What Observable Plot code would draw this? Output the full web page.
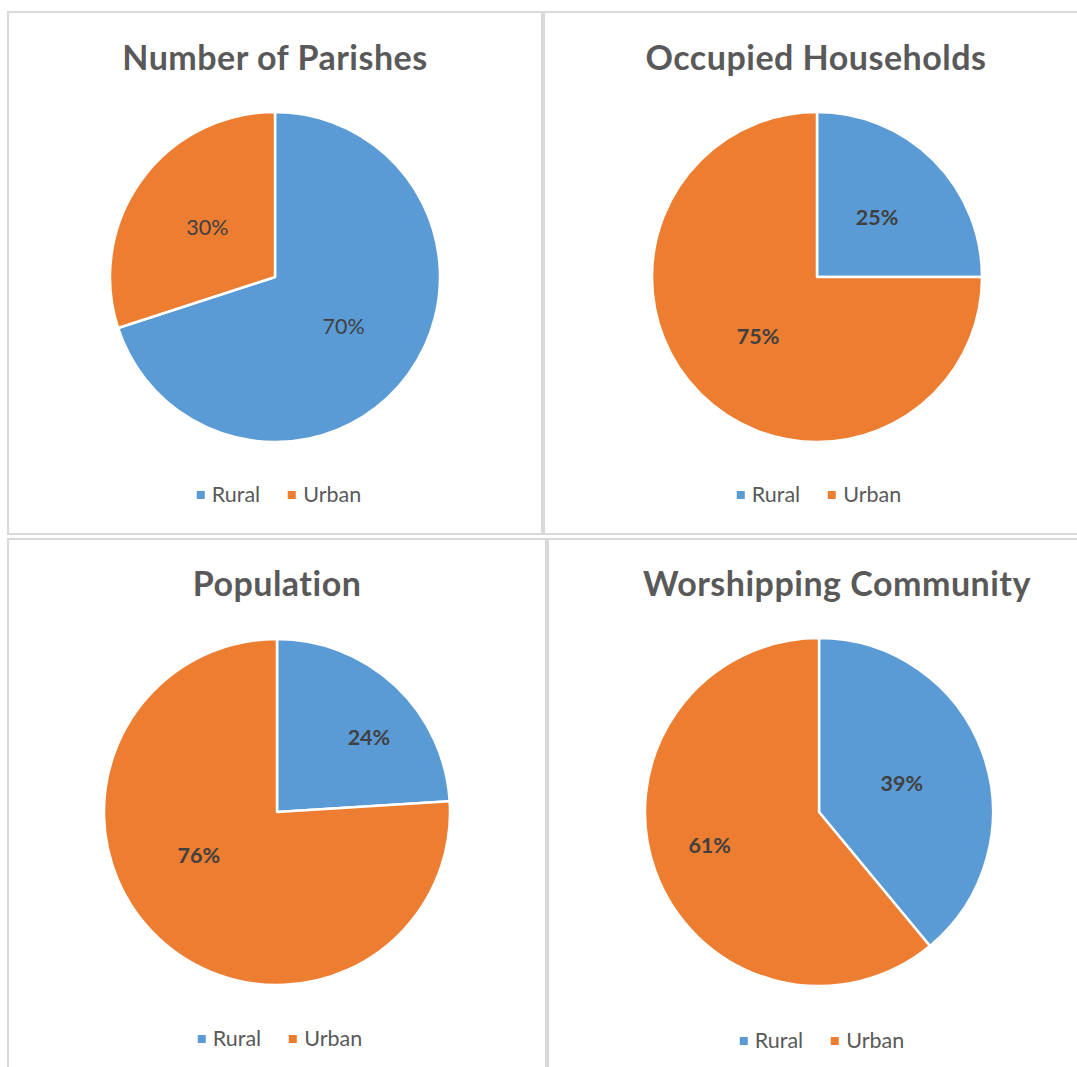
<!DOCTYPE html>
<html>
<head>
<meta charset="utf-8">
<script src="https://cdn.jsdelivr.net/npm/d3@7"></script>
<script src="https://cdn.jsdelivr.net/npm/@observablehq/plot@0.6"></script>
<style>
  html, body { margin: 0; padding: 0; background: #fff; overflow: hidden; width: 1077px; height: 1067px; }
  body { position: relative; font-family: Lato, "Open Sans", sans-serif; }
  .panel { position: absolute; box-sizing: border-box; border: 2px solid #d9d9d9; }
  .title { position: absolute; transform: translateX(-50%); white-space: nowrap; font-weight: 700; color: #595959; line-height: 1; letter-spacing: 0.5px; }
  .legend { position: absolute; transform: translateX(-50%); display: flex; align-items: center; white-space: nowrap; color: #595959; font-size: 21.5px; line-height: 1; }
  .legend .item { display: flex; align-items: center; }
  .legend .item + .item { margin-left: 28px; }
  .legend .sw { width: 8px; height: 8px; margin-right: 7px; }
  .pie { position: absolute; }
</style>
</head>
<body>
<script>
// ---------------- data ----------------
const chartTitles = ["Number of Parishes", "Occupied Households", "Population", "Worshipping Community"];
const categories = ["Rural", "Urban"];
const ruralShare = [70, 25, 24, 39];
const urbanShare = [30, 75, 76, 61];

// ---------------- styles / layout ----------------
const colors = ["#5B9BD5", "#ED7D31"];
const labelBold = [false, true, true, true];
// panel boxes [left, top, width, height]
const panelBoxes = [[7, 11, 536, 524], [543, 11, 600, 524], [7, 538, 540, 600], [547, 538, 600, 600]];
// pie center x, center y, radius (page px)
const pieGeom = [[275, 277, 165], [817, 277, 165], [277, 812, 173], [819, 812, 174]];
// title center x, top
const titlePos = [[275, 40], [816, 40], [277, 566], [837, 566]];
// legend center x, center y
const legendPos = [[279, 495], [819, 495], [280, 1039], [822, 1041]];
// label placement (fraction of radius, angle in degrees clockwise from 12 o'clock); null = centroid of slice
const labelPlacement = [
  [null, null],
  [null, null],
  [[0.68, 51], [0.52, 241]],
  [[0.50, 71], [0.66, 253]]
];

const M = 6; // svg margin around the pie

function pieRender(values) {
  return (index, scales) => {
    const cx = scales.x(0), cy = scales.y(0), r = scales.x(1) - scales.x(0);
    const arcs = d3.pie().sort(null)(values);
    const arc = d3.arc().innerRadius(0).outerRadius(r);
    const g = d3.create("svg:g").attr("transform", `translate(${cx},${cy})`);
    g.selectAll("path").data(arcs).join("path")
      .attr("d", arc)
      .attr("fill", (d, i) => colors[i])
      .attr("stroke", "#fff")
      .attr("stroke-width", 2.5)
      .attr("stroke-linejoin", "round");
    return g.node();
  };
}

chartTitles.forEach((title, k) => {
  const [pl, pt, pw, ph] = panelBoxes[k];
  const panel = document.createElement("div");
  panel.className = "panel";
  Object.assign(panel.style, { left: pl + "px", top: pt + "px", width: pw + "px", height: ph + "px" });
  document.body.appendChild(panel);

  const values = [ruralShare[k], urbanShare[k]];
  const total = d3.sum(values);
  const arcs = d3.pie().sort(null)(values);
  const labels = arcs.map((a, i) => {
    const place = labelPlacement[k][i];
    const mid = (a.startAngle + a.endAngle) / 2;
    const f = place ? place[0] : 0.51;
    const ang = place ? place[1] * Math.PI / 180 : mid;
    return {
      x: f * Math.sin(ang),
      y: f * Math.cos(ang),
      text: Math.round(values[i] / total * 100) + "%"
    };
  });

  const [cx, cy, r] = pieGeom[k];
  const size = 2 * r + 2 * M;
  const chart = Plot.plot({
    width: size,
    height: size,
    margin: M,
    x: { domain: [-1, 1], axis: null },
    y: { domain: [-1, 1], axis: null },
    style: { background: "transparent", overflow: "visible" },
    marks: [
      pieRender(values),
      Plot.text(labels, {
        x: "x", y: "y", text: "text",
        fill: "#404040",
        fontSize: 21.5,
        fontFamily: "Lato, 'Open Sans', sans-serif",
        fontWeight: labelBold[k] ? 700 : 400
      })
    ]
  });
  chart.classList.add("pie");
  chart.style.left = (cx - r - M) + "px";
  chart.style.top = (cy - r - M) + "px";
  document.body.appendChild(chart);

  const t = document.createElement("div");
  t.className = "title";
  t.textContent = title;
  t.style.fontSize = "34px";
  t.style.left = titlePos[k][0] + "px";
  t.style.top = titlePos[k][1] + "px";
  document.body.appendChild(t);

  const lg = document.createElement("div");
  lg.className = "legend";
  lg.style.left = legendPos[k][0] + "px";
  lg.style.top = (legendPos[k][1] - 11) + "px";
  categories.forEach((c, i) => {
    const it = document.createElement("div");
    it.className = "item";
    const sw = document.createElement("span");
    sw.className = "sw";
    sw.style.background = colors[i];
    const tx = document.createElement("span");
    tx.textContent = c;
    it.appendChild(sw); it.appendChild(tx);
    lg.appendChild(it);
  });
  document.body.appendChild(lg);
});
</script>
</body>
</html>
